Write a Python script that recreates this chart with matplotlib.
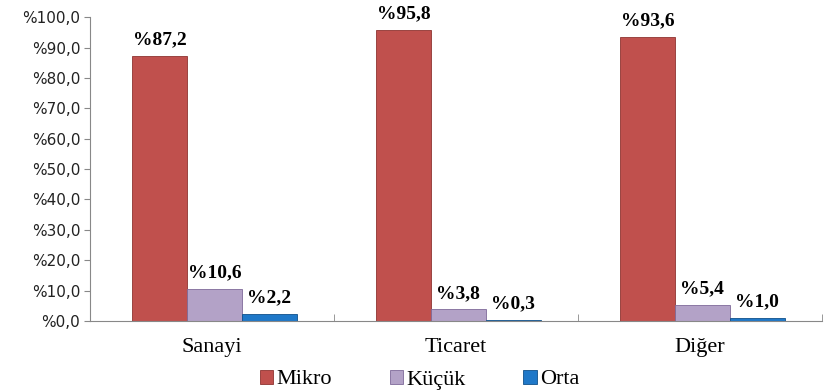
import matplotlib.pyplot as plt
import numpy as np

categories = ["Sanayi", "Ticaret", "Diğer"]
series_names = ["Mikro", "Küçük", "Orta"]
mikro = [87.2, 95.8, 93.6]
kucuk = [10.6, 3.8, 5.4]
orta = [2.2, 0.3, 1.0]
colors = ["#C0504D", "#B3A2C7", "#1F78C8"]
edges = ["#8E3431", "#7F6A9A", "#10508A"]

fig = plt.figure(figsize=(8.26, 3.9), dpi=100)
ax = fig.add_axes([0.109, 0.177, 0.886, 0.779])

x = np.arange(len(categories))
w = 0.225
for i, (vals, name) in enumerate(zip([mikro, kucuk, orta], series_names)):
    pos = x + (i - 1) * w + 0.01
    bars = ax.bar(pos, vals, w, color=colors[i], edgecolor=edges[i],
                  linewidth=0.6, label=name)
    for b, v in zip(bars, vals):
        ax.text(b.get_x() + b.get_width() / 2, v + 2.5,
                "%" + f"{v:.1f}".replace(".", ","),
                ha="center", va="bottom", family="Liberation Serif",
                fontweight="bold", fontsize=14)

ax.set_xlim(-0.5, 2.5)
ax.set_ylim(0, 100)
ax.set_yticks(np.arange(0, 101, 10))
ax.set_yticklabels(["%" + f"{t:.1f}".replace(".", ",") for t in np.arange(0, 101, 10)],
                   fontsize=11, family="DejaVu Sans", color="#222222")
ax.set_xticks(x)
ax.set_xticklabels(categories, family="Liberation Serif", fontsize=16)
ax.set_xticks([0.5, 1.5, 2.5], minor=True)
ax.tick_params(axis="x", which="major", length=0, pad=12)
ax.tick_params(axis="x", which="minor", length=5, direction="in", color="#888888")
ax.tick_params(axis="y", length=4, color="#888888", pad=3)

for s in ["top", "right"]:
    ax.spines[s].set_visible(False)
for s in ["left", "bottom"]:
    ax.spines[s].set_color("#888888")

fig.legend(loc="lower center", ncol=3, bbox_to_anchor=(0.508, -0.05),
           frameon=False, prop={"family": "Liberation Serif", "size": 16},
           handlelength=0.6, handleheight=0.6, handletextpad=0.15,
           columnspacing=2.6)

fig.savefig("out.png", dpi=100)
